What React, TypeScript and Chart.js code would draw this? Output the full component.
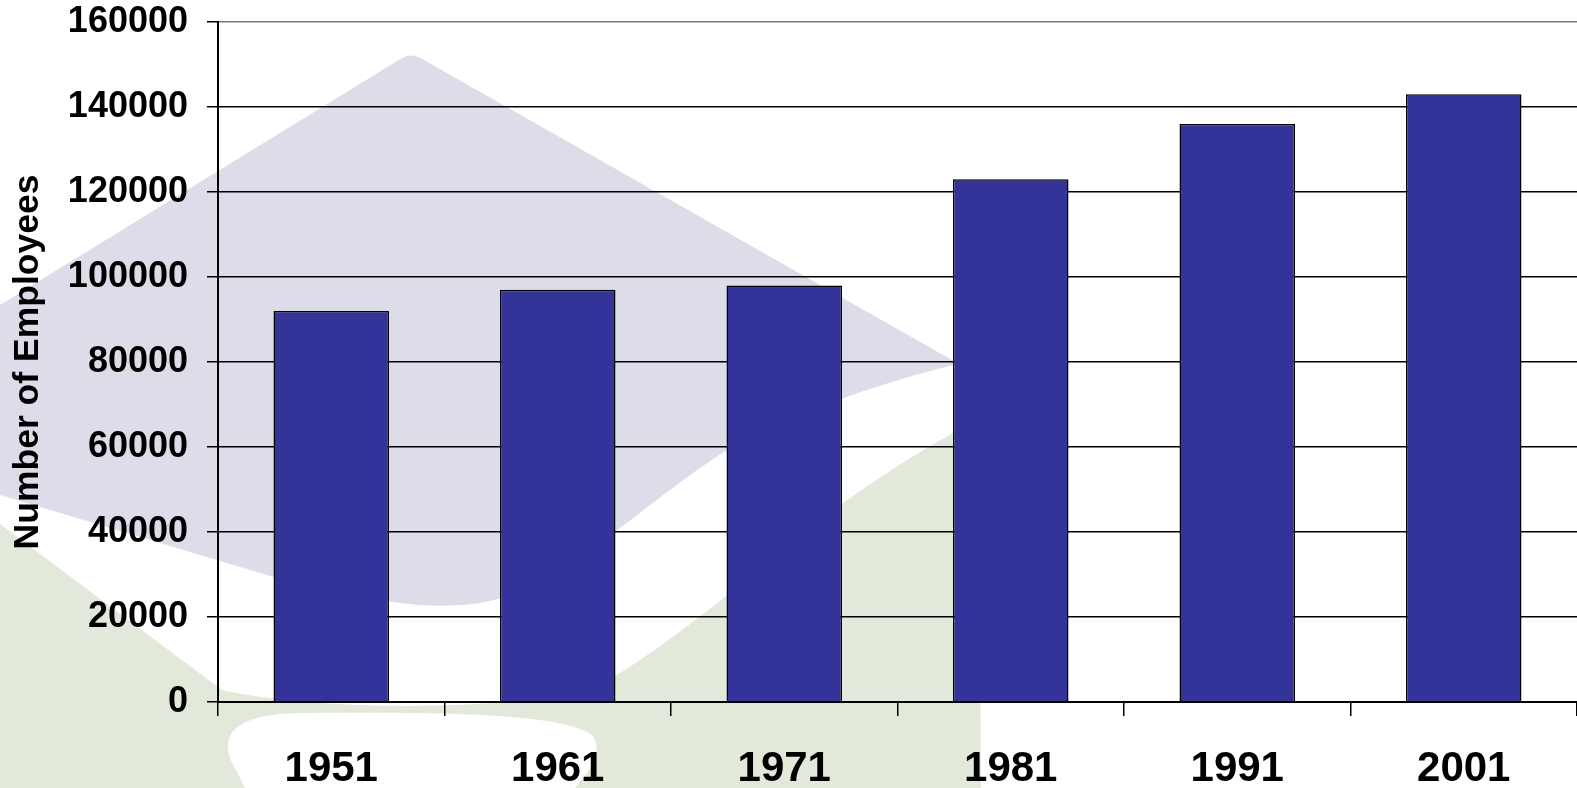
import React, { useEffect, useRef } from "react";
import { Chart, registerables } from "chart.js";

Chart.register(...registerables);

const categories = ["1951", "1961", "1971", "1981", "1991", "2001"];
const employees = [92000, 97000, 98000, 123000, 136000, 143000];
const yMin = 0;
const yMax = 160000;
const yStep = 20000;
const yTitle = "Number of Employees";

const FONT = "'Liberation Sans', Arial, sans-serif";

const watermark = {
  id: "watermark",
  beforeDraw(chart: any) {
    const ctx = chart.ctx as CanvasRenderingContext2D;
    const w = chart.width;
    const h = chart.height;
    ctx.save();
    ctx.fillStyle = "#ffffff";
    ctx.fillRect(0, 0, w, h);

    // lavender logo shape
    ctx.fillStyle = "#dcdde9";
    ctx.beginPath();
    ctx.moveTo(402, 58);
    ctx.quadraticCurveTo(412, 52, 424, 60);
    ctx.lineTo(952, 360);
    ctx.quadraticCurveTo(958, 364, 950, 366);
    ctx.bezierCurveTo(890, 380, 800, 410, 727, 450);
    ctx.bezierCurveTo(640, 505, 560, 590, 480, 603);
    ctx.bezierCurveTo(420, 612, 360, 598, 270, 576);
    ctx.lineTo(0, 495);
    ctx.lineTo(0, 305);
    ctx.closePath();
    ctx.fill();

    // light green logo shape
    ctx.fillStyle = "#e3e9da";
    ctx.beginPath();
    ctx.moveTo(0, 524);
    ctx.lineTo(222, 690);
    ctx.bezierCurveTo(320, 712, 520, 712, 600, 685);
    ctx.bezierCurveTo(680, 640, 780, 550, 843, 503);
    ctx.bezierCurveTo(890, 470, 930, 445, 962, 428);
    ctx.quadraticCurveTo(978, 425, 979, 445);
    ctx.lineTo(981, h);
    ctx.lineTo(0, h);
    ctx.closePath();
    ctx.fill();

    // white swoosh at bottom
    ctx.fillStyle = "#ffffff";
    ctx.beginPath();
    ctx.moveTo(236, 770);
    ctx.bezierCurveTo(215, 735, 235, 714, 300, 713);
    ctx.bezierCurveTo(430, 712, 560, 712, 592, 735);
    ctx.bezierCurveTo(606, 755, 585, 775, 575, h);
    ctx.lineTo(245, h);
    ctx.closePath();
    ctx.fill();
    ctx.restore();
  },
};

export default function App() {
  const canvasRef = useRef<HTMLCanvasElement | null>(null);

  useEffect(() => {
    if (!canvasRef.current) return;
    const chart = new Chart(canvasRef.current, {
      type: "bar",
      data: {
        labels: categories,
        datasets: [
          {
            data: employees,
            backgroundColor: "#333399",
            borderColor: "#000000",
            borderWidth: 1.5,
            barPercentage: 0.51,
            categoryPercentage: 1.0,
          },
        ],
      },
      options: {
        responsive: false,
        animation: false,
        devicePixelRatio: 1,
        layout: { padding: { top: 22, left: 0, right: 0, bottom: 0 } },
        plugins: {
          legend: { display: false },
          tooltip: { enabled: false },
        },
        scales: {
          x: {
            type: "category",
            grid: {
              drawOnChartArea: false,
              offset: true,
              tickLength: 14,
              color: "#000000",
              lineWidth: 1.5,
            },
            border: { display: true, color: "#000000", width: 2 },
            ticks: {
              color: "#000000",
              font: { family: FONT, size: 42, weight: "bold" },
              padding: 28,
              maxRotation: 0,
            },
            afterFit: (scale: any) => {
              scale.height = 86;
              scale.paddingLeft = 0;
              scale.paddingRight = 0;
            },
          },
          y: {
            min: yMin,
            max: yMax,
            ticks: {
              stepSize: yStep,
              color: "#000000",
              font: { family: FONT, size: 36, weight: "bold" },
              padding: 19,
              callback: (value: any) => String(value),
            },
            grid: {
              color: (ctx: any) => (ctx.tick && ctx.tick.value === yMax ? "#7a7a7a" : "#000000"),
              tickColor: "#000000",
              lineWidth: 1.5,
              tickLength: 11,
            },
            border: { display: true, color: "#000000", width: 2 },
            title: {
              display: true,
              text: yTitle,
              color: "#000000",
              font: { family: FONT, size: 35.5, weight: "bold" },
              padding: { top: 7, bottom: 22 },
            },
            afterFit: (scale: any) => {
              scale.width = 218;
              scale.paddingTop = 0;
              scale.paddingBottom = 0;
            },
          },
        },
      },
      plugins: [watermark],
    });
    return () => chart.destroy();
  }, []);

  return (
    <div style={{ position: "fixed", left: 0, top: 0, width: 1577, height: 788 }}>
      <canvas ref={canvasRef} width={1577} height={788} style={{ width: 1577, height: 788 }} />
    </div>
  );
}
